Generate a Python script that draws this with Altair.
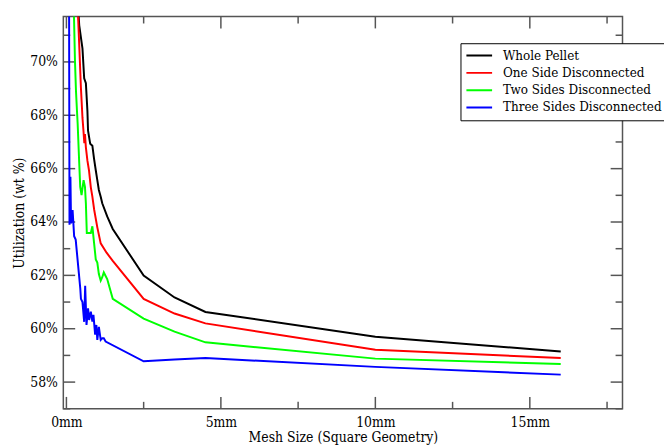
import altair as alt
import pandas as pd

series_names = ["Whole Pellet", "One Side Disconnected", "Two Sides Disconnected", "Three Sides Disconnected"]
series_colors = ["#000000", "#ff0000", "#00ff00", "#0000ff"]

black_x = [0.30, 0.415, 0.52, 0.575, 0.63, 0.68, 0.70, 0.77, 0.84, 0.895, 0.95, 1.0, 1.05, 1.11, 1.16, 1.32, 1.5, 2.5, 3.5, 4.5, 10, 16]
black_y = [73.5, 71.37, 70.5, 69.39, 69.2, 68.16, 67.42, 66.93, 66.86, 66.37, 65.94, 65.57, 65.2, 64.95, 64.7, 64.21, 63.74, 61.99, 61.17, 60.63, 59.7, 59.15]

red_x = [0.35, 0.415, 0.47, 0.52, 0.55, 0.58, 0.60, 0.63, 0.68, 0.73, 0.79, 0.84, 0.90, 1.0, 1.11, 1.30, 1.5, 2.5, 3.5, 4.5, 10, 16]
red_y = [72.5, 70.63, 69.02, 67.9, 67.45, 66.95, 67.3, 66.8, 66.3, 65.94, 65.3, 64.95, 64.45, 63.8, 63.2, 62.85, 62.54, 61.12, 60.57, 60.2, 59.21, 58.9]

green_x = [0.22, 0.278, 0.31, 0.342, 0.364, 0.415, 0.447, 0.49, 0.556, 0.60, 0.63, 0.66, 0.79, 0.84, 0.895, 0.95, 1.0, 1.05, 1.11, 1.16, 1.21, 1.32, 1.5, 2.5, 3.5, 4.5, 10, 16]
green_y = [73.0, 70.0, 68.9, 68.16, 67.68, 66.2, 65.32, 65.01, 65.57, 65.32, 64.7, 63.59, 63.59, 63.84, 63.22, 62.6, 62.48, 62.05, 61.8, 61.93, 62.11, 61.86, 61.12, 60.38, 59.89, 59.49, 58.88, 58.68]

blue_x = [0.08, 0.10, 0.13, 0.15, 0.20, 0.25, 0.30, 0.34, 0.40, 0.45, 0.47, 0.52, 0.575, 0.607, 0.65, 0.70, 0.735, 0.79, 0.84, 0.875, 0.93, 0.97, 1.0, 1.05, 1.11, 1.16, 1.21, 1.27, 2.5, 3.5, 4.5, 10, 16]
blue_y = [76.0, 63.9, 65.7, 63.95, 64.45, 63.47, 63.34, 62.85, 62.11, 61.49, 61.12, 61.0, 60.26, 61.61, 60.14, 60.76, 60.33, 60.64, 60.27, 60.52, 59.78, 60.14, 59.58, 60.07, 59.58, 59.64, 59.64, 59.52, 58.78, 58.85, 58.9, 58.57, 58.28]

x_major = [0, 5, 10, 15]
x_minor = [2.5, 7.5, 12.5, 17.5]
y_major = [58, 60, 62, 64, 66, 68, 70]
y_minor = [57, 59, 61, 63, 65, 67, 69, 71]

x_domain = [-0.1, 18]
y_domain = [57, 71.7]

W, H = 566, 397
FONT = "DejaVu Serif Condensed"
FS = 14
LFS = 13.5
FRAME = "#555555"

rows = []
for name, xs_, ys_ in zip(series_names, [black_x, red_x, green_x, blue_x], [black_y, red_y, green_y, blue_y]):
    for i, (a, b) in enumerate(zip(xs_, ys_)):
        rows.append({"series": name, "mesh": a, "util": b, "i": i})
df = pd.DataFrame(rows)

xs = alt.Scale(domain=x_domain, nice=False, zero=False)
ys = alt.Scale(domain=y_domain, nice=False, zero=False)

lines = alt.Chart(df).mark_line(clip=True, strokeWidth=2).encode(
    x=alt.X("mesh:Q", scale=xs, axis=alt.Axis(
        values=x_major, labelExpr="datum.value + 'mm'", ticks=False, grid=False, domain=False,
        title="Mesh Size (Square Geometry)", labelFont=FONT, labelFontSize=FS, labelColor="black",
        titleFont=FONT, titleFontSize=FS, titleFontWeight="normal", titleColor="black",
        labelPadding=7, titlePadding=1)),
    y=alt.Y("util:Q", scale=ys, axis=alt.Axis(
        values=y_major, labelExpr="datum.value + '%'", ticks=False, grid=False, domain=False,
        title="Utilization (wt %)", labelFont=FONT, labelFontSize=FS, labelColor="black",
        titleFont=FONT, titleFontSize=FS, titleFontWeight="normal", titleColor="black",
        labelPadding=6, titlePadding=3)),
    color=alt.Color("series:N", scale=alt.Scale(domain=series_names, range=series_colors),
                    sort=series_names,
                    legend=alt.Legend(orient="none", legendX=402, legendY=27, title=None,
                                      symbolType="stroke", symbolSize=676, symbolStrokeWidth=2,
                                      clipHeight=15, rowPadding=2.5, padding=5,
                                      strokeColor="black", fillColor="white",
                                      labelFont=FONT, labelFontSize=LFS, labelColor="black",
                                      labelOffset=10, symbolOffset=0, labelLimit=400)),
    order="i:Q",
)

def tick_layer(vals, channel, a, b):
    d = pd.DataFrame({"v": vals})
    if channel == "y":
        enc = dict(y=alt.Y("v:Q", scale=ys), x=alt.value(a), x2=alt.value(b))
    else:
        enc = dict(x=alt.X("v:Q", scale=xs), y=alt.value(a), y2=alt.value(b))
    return alt.Chart(d).mark_rule(color=FRAME, strokeWidth=1.5).encode(**enc)

ticks = [
    tick_layer(y_major, "y", 0, 12), tick_layer(y_minor, "y", 0, 7),
    tick_layer(y_major, "y", W - 12, W), tick_layer(y_minor, "y", W - 7, W),
    tick_layer(x_major, "x", H, H - 12), tick_layer(x_minor, "x", H, H - 7),
    tick_layer(x_major, "x", 0, 12), tick_layer(x_minor, "x", 0, 7),
]

chart = alt.layer(*ticks, lines).properties(
    width=W, height=H,
    autosize=alt.AutoSizeParams(type="none"),
    padding={"left": 56, "top": 6, "right": 42, "bottom": 34},
).configure_view(stroke=FRAME, strokeWidth=1.5)

chart.save("out.html", embed_options={"renderer": "svg", "actions": False})
